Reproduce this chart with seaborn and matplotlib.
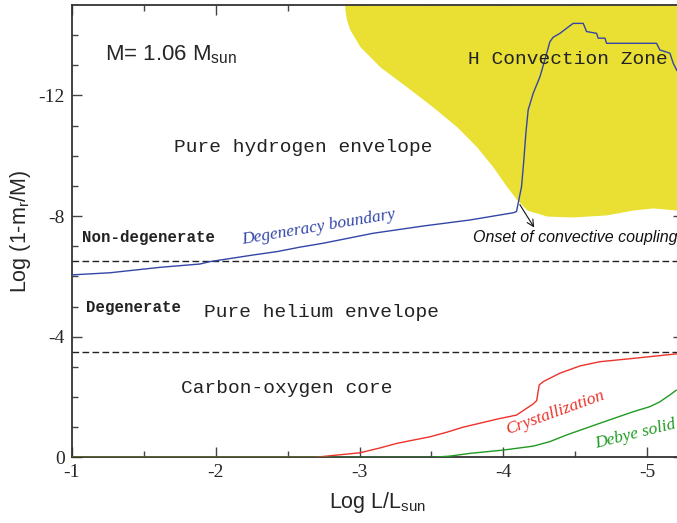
#!/usr/bin/python3

# imports
import matplotlib
matplotlib.use("Agg")
import matplotlib.pyplot as plt
import seaborn as sns

# ---- data ----
# degeneracy boundary (blue), log L/Lsun vs log(1-mr/M)
degen_x = [-1.0, -1.264, -1.612, -1.890, -1.960, -2.261, -2.424, -2.586, -2.748, -3.095,
           -3.443, -3.768, -4.069, -4.092, -4.127, -4.143, -4.157, -4.173, -4.208, -4.255,
           -4.289, -4.324, -4.347, -4.394, -4.463, -4.486, -4.556, -4.579, -4.649, -4.660,
           -4.707, -4.718, -5.066, -5.089, -5.159, -5.182, -5.205, -5.25]
degen_y = [-6.05, -6.12, -6.30, -6.41, -6.49, -6.71, -6.82, -6.97, -7.10, -7.43,
           -7.67, -7.87, -8.11, -8.15, -8.98, -9.86, -10.75, -11.52, -12.07, -12.62,
           -13.18, -13.78, -13.93, -14.06, -14.31, -14.39, -14.39, -14.12, -14.06, -13.90,
           -13.90, -13.73, -13.73, -13.51, -13.40, -13.07, -12.85, -12.55]

# H convection zone lower edge (yellow fills up to the top)
conv_x = [-2.898, -2.898, -2.910, -2.933, -2.968, -3.003, -3.072, -3.142, -3.330, -3.510,
          -3.677, -3.816, -3.928, -4.025, -4.095, -4.164, -4.303, -4.484, -4.720, -4.901,
          -5.040, -5.207, -5.25]
conv_y = [-15.0, -14.84, -14.50, -14.18, -13.90, -13.62, -13.29, -12.95, -12.28, -11.62,
          -10.96, -10.29, -9.63, -8.97, -8.54, -8.20, -8.00, -7.97, -8.04, -8.20,
          -8.27, -8.20, -8.18]

# crystallization front (red)
cryst_x = [-1.0, -2.69, -3.003, -3.142, -3.258, -3.373, -3.490, -3.606, -3.721, -3.837,
           -3.960, -4.092, -4.208, -4.232, -4.250, -4.278, -4.394, -4.533, -4.672, -4.903,
           -5.205]
cryst_y = [0.0, 0.0, -0.15, -0.31, -0.46, -0.57, -0.68, -0.83, -1.00, -1.13,
           -1.27, -1.40, -1.77, -1.88, -2.40, -2.51, -2.79, -3.03, -3.17, -3.28,
           -3.43]

# Debye solid front (green)
debye_x = [-1.0, -3.51, -3.63, -3.768, -4.0, -4.208, -4.324, -4.440, -4.672, -4.903,
           -5.02, -5.089, -5.159, -5.205]
debye_y = [0.0, 0.0, -0.04, -0.13, -0.24, -0.37, -0.52, -0.74, -1.13, -1.51,
           -1.68, -1.84, -2.07, -2.23]

# composition boundaries (dashed)
layer_bounds = [-6.5, -3.5]

x_ticks = [-1, -2, -3, -4, -5]
y_ticks = [0, -4, -8, -12]

# colours
c_blue = "#3346a8"
c_red = "#ec3229"
c_green = "#1f9a22"
c_yellow = "#e9e033"

# ---- style ----
sns.set_theme(style="ticks")
plt.rcParams["font.family"] = ["Liberation Sans", "DejaVu Sans"]
plt.rcParams["mathtext.fontset"] = "custom"
plt.rcParams["mathtext.rm"] = "Liberation Sans"
plt.rcParams["mathtext.it"] = "Liberation Sans:italic"
plt.rcParams["axes.unicode_minus"] = False

fig = plt.figure(figsize=(6.77, 5.23), dpi=100)
ax = fig.add_axes([72 / 677, 1 - 457.3 / 523, (683 - 72) / 677, (457.3 - 5) / 523])

# yellow convection zone
ax.fill_between(conv_x, conv_y, -15, color=c_yellow, lw=0, zorder=1)

for yb in layer_bounds:
    ax.axhline(yb, color="#222222", lw=1.0, ls=(0, (4.8, 2.4)), zorder=2)

sns.lineplot(x=degen_x, y=degen_y, ax=ax, color=c_blue, lw=1.0, sort=False, estimator=None, zorder=3)
sns.lineplot(x=cryst_x, y=cryst_y, ax=ax, color=c_red, lw=1.0, sort=False, estimator=None, zorder=3)
sns.lineplot(x=debye_x, y=debye_y, ax=ax, color=c_green, lw=1.0, sort=False, estimator=None, zorder=3)

ax.set_xlim(-1, -5.25)
ax.set_ylim(0, -15)

# ticks: inward on all sides, serif labels
ax.set_xticks(x_ticks)
ax.set_xticks([-1.5, -2.5, -3.5, -4.5], minor=True)
ax.set_yticks(y_ticks)
ax.set_yticks([v for v in range(-1, -15, -1) if v % 4 != 0], minor=True)
ax.tick_params(which="both", direction="in", top=True, right=True, color="#444444", width=1.0)
ax.tick_params(which="major", length=7.5, labelsize=14, pad=5)
ax.tick_params(which="minor", length=4.2)
for lab in ax.get_xticklabels() + ax.get_yticklabels():
    lab.set_family("Liberation Serif")
for sp in ax.spines.values():
    sp.set_color("#333333")
    sp.set_linewidth(1.3)

ax.set_xlabel(r"Log L/L$_{\mathrm{sun}}$", fontsize=15.5, labelpad=6)
ax.set_ylabel(r"Log (1-m$_{\mathrm{r}}$/M)", fontsize=15.5, labelpad=4)

# ---- annotations ----
ax.text(-1.229, -13.15, r"M= 1.06 M$_{\mathrm{sun}}$", fontsize=16, va="baseline")

mono = dict(family="Liberation Mono", fontsize=14, va="baseline", color="#222222")
ax.text(-1.709, -10.14, "Pure hydrogen envelope", **mono)
ax.text(-3.752, -13.04, "H Convection Zone", **mono)
ax.text(-1.918, -4.66, "Pure helium envelope", **mono)
ax.text(-1.758, -2.12, "Carbon-oxygen core", **mono)

bold = dict(family="Liberation Mono", fontsize=11.3, weight="bold", va="baseline", color="#222222")
ax.text(-1.067, -7.15, "Non-degenerate", **bold)
ax.text(-1.097, -4.81, "Degenerate", **bold)

ital = dict(family="Liberation Serif", style="italic", fontsize=12.5, ha="center", va="center",
            rotation_mode="anchor")
ax.text(-2.714, -7.62, "Degeneracy boundary", color=c_blue, rotation=9.5, **ital)
ax.text(-4.362, -1.47, "Crystallization", color=c_red, rotation=20, **ital)
ax.text(-4.922, -0.76, "Debye solid", color=c_green, rotation=14, **ital)

ax.text(-3.791, -7.15, "Onset of convective coupling", fontsize=11.5, style="italic",
        va="baseline", color="#111111")
ax.annotate("", xy=(-4.215, -7.62), xytext=(-4.115, -8.38),
            arrowprops=dict(arrowstyle="->", color="#111111", lw=0.8, shrinkA=0, shrinkB=0))

fig.savefig("out.png", dpi=100)
